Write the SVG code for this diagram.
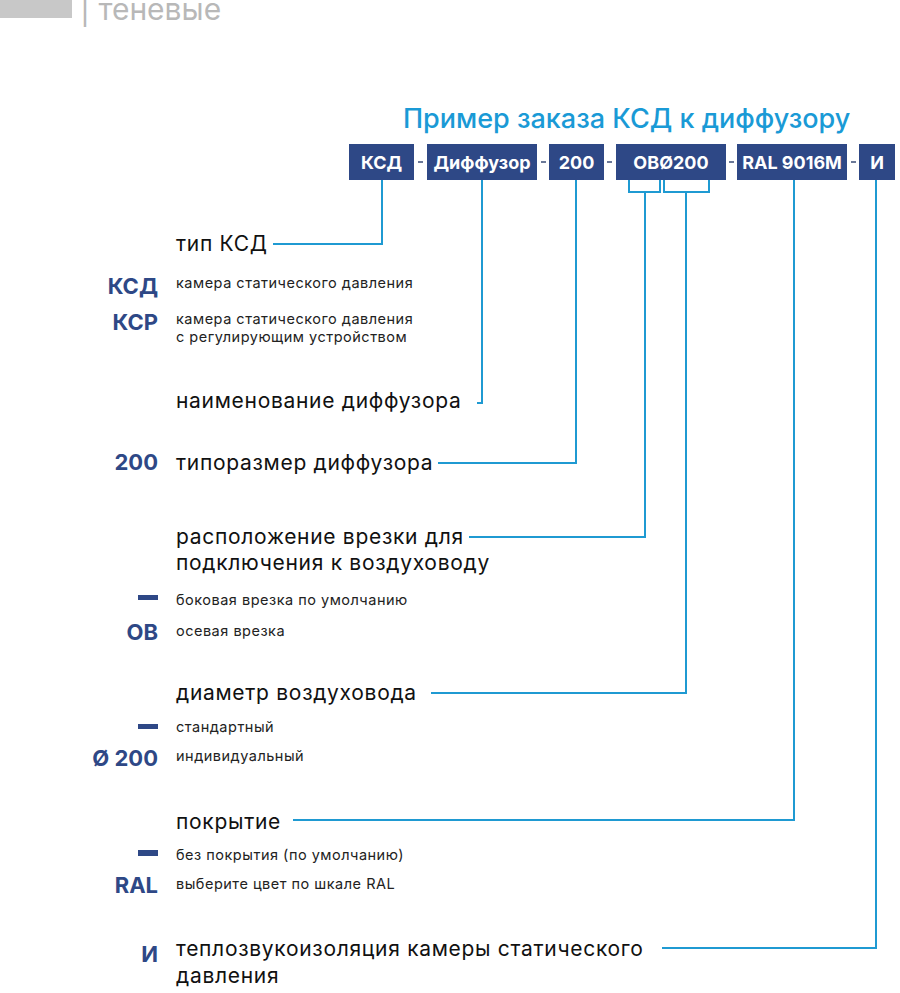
<svg xmlns="http://www.w3.org/2000/svg" width="900" height="993" viewBox="0 0 900 993">
<style>
.box{fill:#2e4886}
.bt{font-family:Inter,"Open Sans",sans-serif;font-weight:700;font-size:18px;fill:#fff;text-anchor:middle}
.dash{fill:#6a7898}
.ln{fill:none;stroke:#1f9ad2;stroke-width:2}
.h{font-family:Inter,"Open Sans",sans-serif;font-size:21px;letter-spacing:0.7px;fill:#111}
.s{font-family:Inter,"Open Sans",sans-serif;font-size:14.5px;letter-spacing:0.5px;fill:#222}
.k{font-family:Inter,"Open Sans",sans-serif;font-weight:700;font-size:22px;fill:#2e4886;text-anchor:end}
.bar{fill:#2e4886}
</style>
<rect x="0" y="0" width="72" height="18" fill="#c8c8c8"/>
<text x="80" y="20" font-family="Inter,'Open Sans',sans-serif" font-size="30" fill="#b8b8b8">| теневые</text>
<text x="403" y="128" font-family="Inter,'Open Sans',sans-serif" font-size="27" font-weight="500" fill="#1a9ad6">Пример заказа КСД к диффузору</text>
<g id="codes">
<g id="c1"><rect class="box" x="349" y="144" width="65" height="36"/><text class="bt" x="381.5" y="168.5">КСД</text></g>
<rect class="dash" x="418" y="161" width="5" height="2"/>
<g id="c2"><rect class="box" x="427" y="144" width="110" height="36"/><text class="bt" x="482" y="168.5">Диффузор</text></g>
<rect class="dash" x="541" y="161" width="5" height="2"/>
<g id="c3"><rect class="box" x="549" y="144" width="55" height="36"/><text class="bt" x="576.5" y="168.5">200</text></g>
<rect class="dash" x="607" y="161" width="5" height="2"/>
<g id="c4"><rect class="box" x="616" y="144" width="110" height="36"/><text class="bt" x="671" y="168.5">ОВØ200</text></g>
<rect class="dash" x="729" y="161" width="5" height="2"/>
<g id="c5"><rect class="box" x="737" y="144" width="110" height="36"/><text class="bt" x="792" y="168.5">RAL 9016M</text></g>
<rect class="dash" x="851" y="161" width="5" height="2"/>
<g id="c6"><rect class="box" x="859" y="144" width="36" height="36"/><text class="bt" x="877" y="168.5">И</text></g>
</g>
<g id="connectors">
<polyline class="ln" points="382,180 382,244 273,244"/>
<polyline class="ln" points="482,180 482,403 477,403"/>
<polyline class="ln" points="576,180 576,463 438,463"/>
<polyline class="ln" points="629,180 629,192 660,192 660,180"/>
<polyline class="ln" points="645,192 645,537 469,537"/>
<polyline class="ln" points="664,180 664,192 709,192 709,180"/>
<polyline class="ln" points="686,192 686,693 431,693"/>
<polyline class="ln" points="794,180 794,820 293,820"/>
<polyline class="ln" points="876,180 876,948 662,948"/>
</g>
<g id="type">
<text class="h" x="176" y="251">тип КСД</text>
<text class="k" x="158" y="294">КСД</text>
<text class="s" x="176" y="288">камера статического давления</text>
<text class="k" x="158" y="330">КСР</text>
<text class="s" x="176" y="324">камера статического давления</text>
<text class="s" x="176" y="342">с регулирующим устройством</text>
</g>
<g id="name">
<text class="h" x="176" y="408">наименование диффузора</text>
</g>
<g id="size">
<text class="k" x="158" y="470">200</text>
<text class="h" x="176" y="470">типоразмер диффузора</text>
</g>
<g id="inlet">
<text class="h" x="176" y="544">расположение врезки для</text>
<text class="h" x="176" y="570">подключения к воздуховоду</text>
<rect class="bar" x="138" y="595" width="20" height="5"/>
<text class="s" x="176" y="605">боковая врезка по умолчанию</text>
<text class="k" x="158" y="640">ОВ</text>
<text class="s" x="176" y="636">осевая врезка</text>
</g>
<g id="diameter">
<text class="h" x="176" y="700">диаметр воздуховода</text>
<rect class="bar" x="138" y="724" width="20" height="5"/>
<text class="s" x="176" y="732">стандартный</text>
<text class="k" x="158" y="766">Ø 200</text>
<text class="s" x="176" y="761">индивидуальный</text>
</g>
<g id="coating">
<text class="h" x="176" y="829">покрытие</text>
<rect class="bar" x="138" y="850" width="20" height="6"/>
<text class="s" x="176" y="860">без покрытия (по умолчанию)</text>
<text class="k" x="158" y="893">RAL</text>
<text class="s" x="176" y="889">выберите цвет по шкале RAL</text>
</g>
<g id="insulation">
<text class="k" x="158" y="962" font-weight="400">И</text>
<text class="h" x="176" y="956">теплозвукоизоляция камеры статического</text>
<text class="h" x="176" y="983">давления</text>
</g>
</svg>
